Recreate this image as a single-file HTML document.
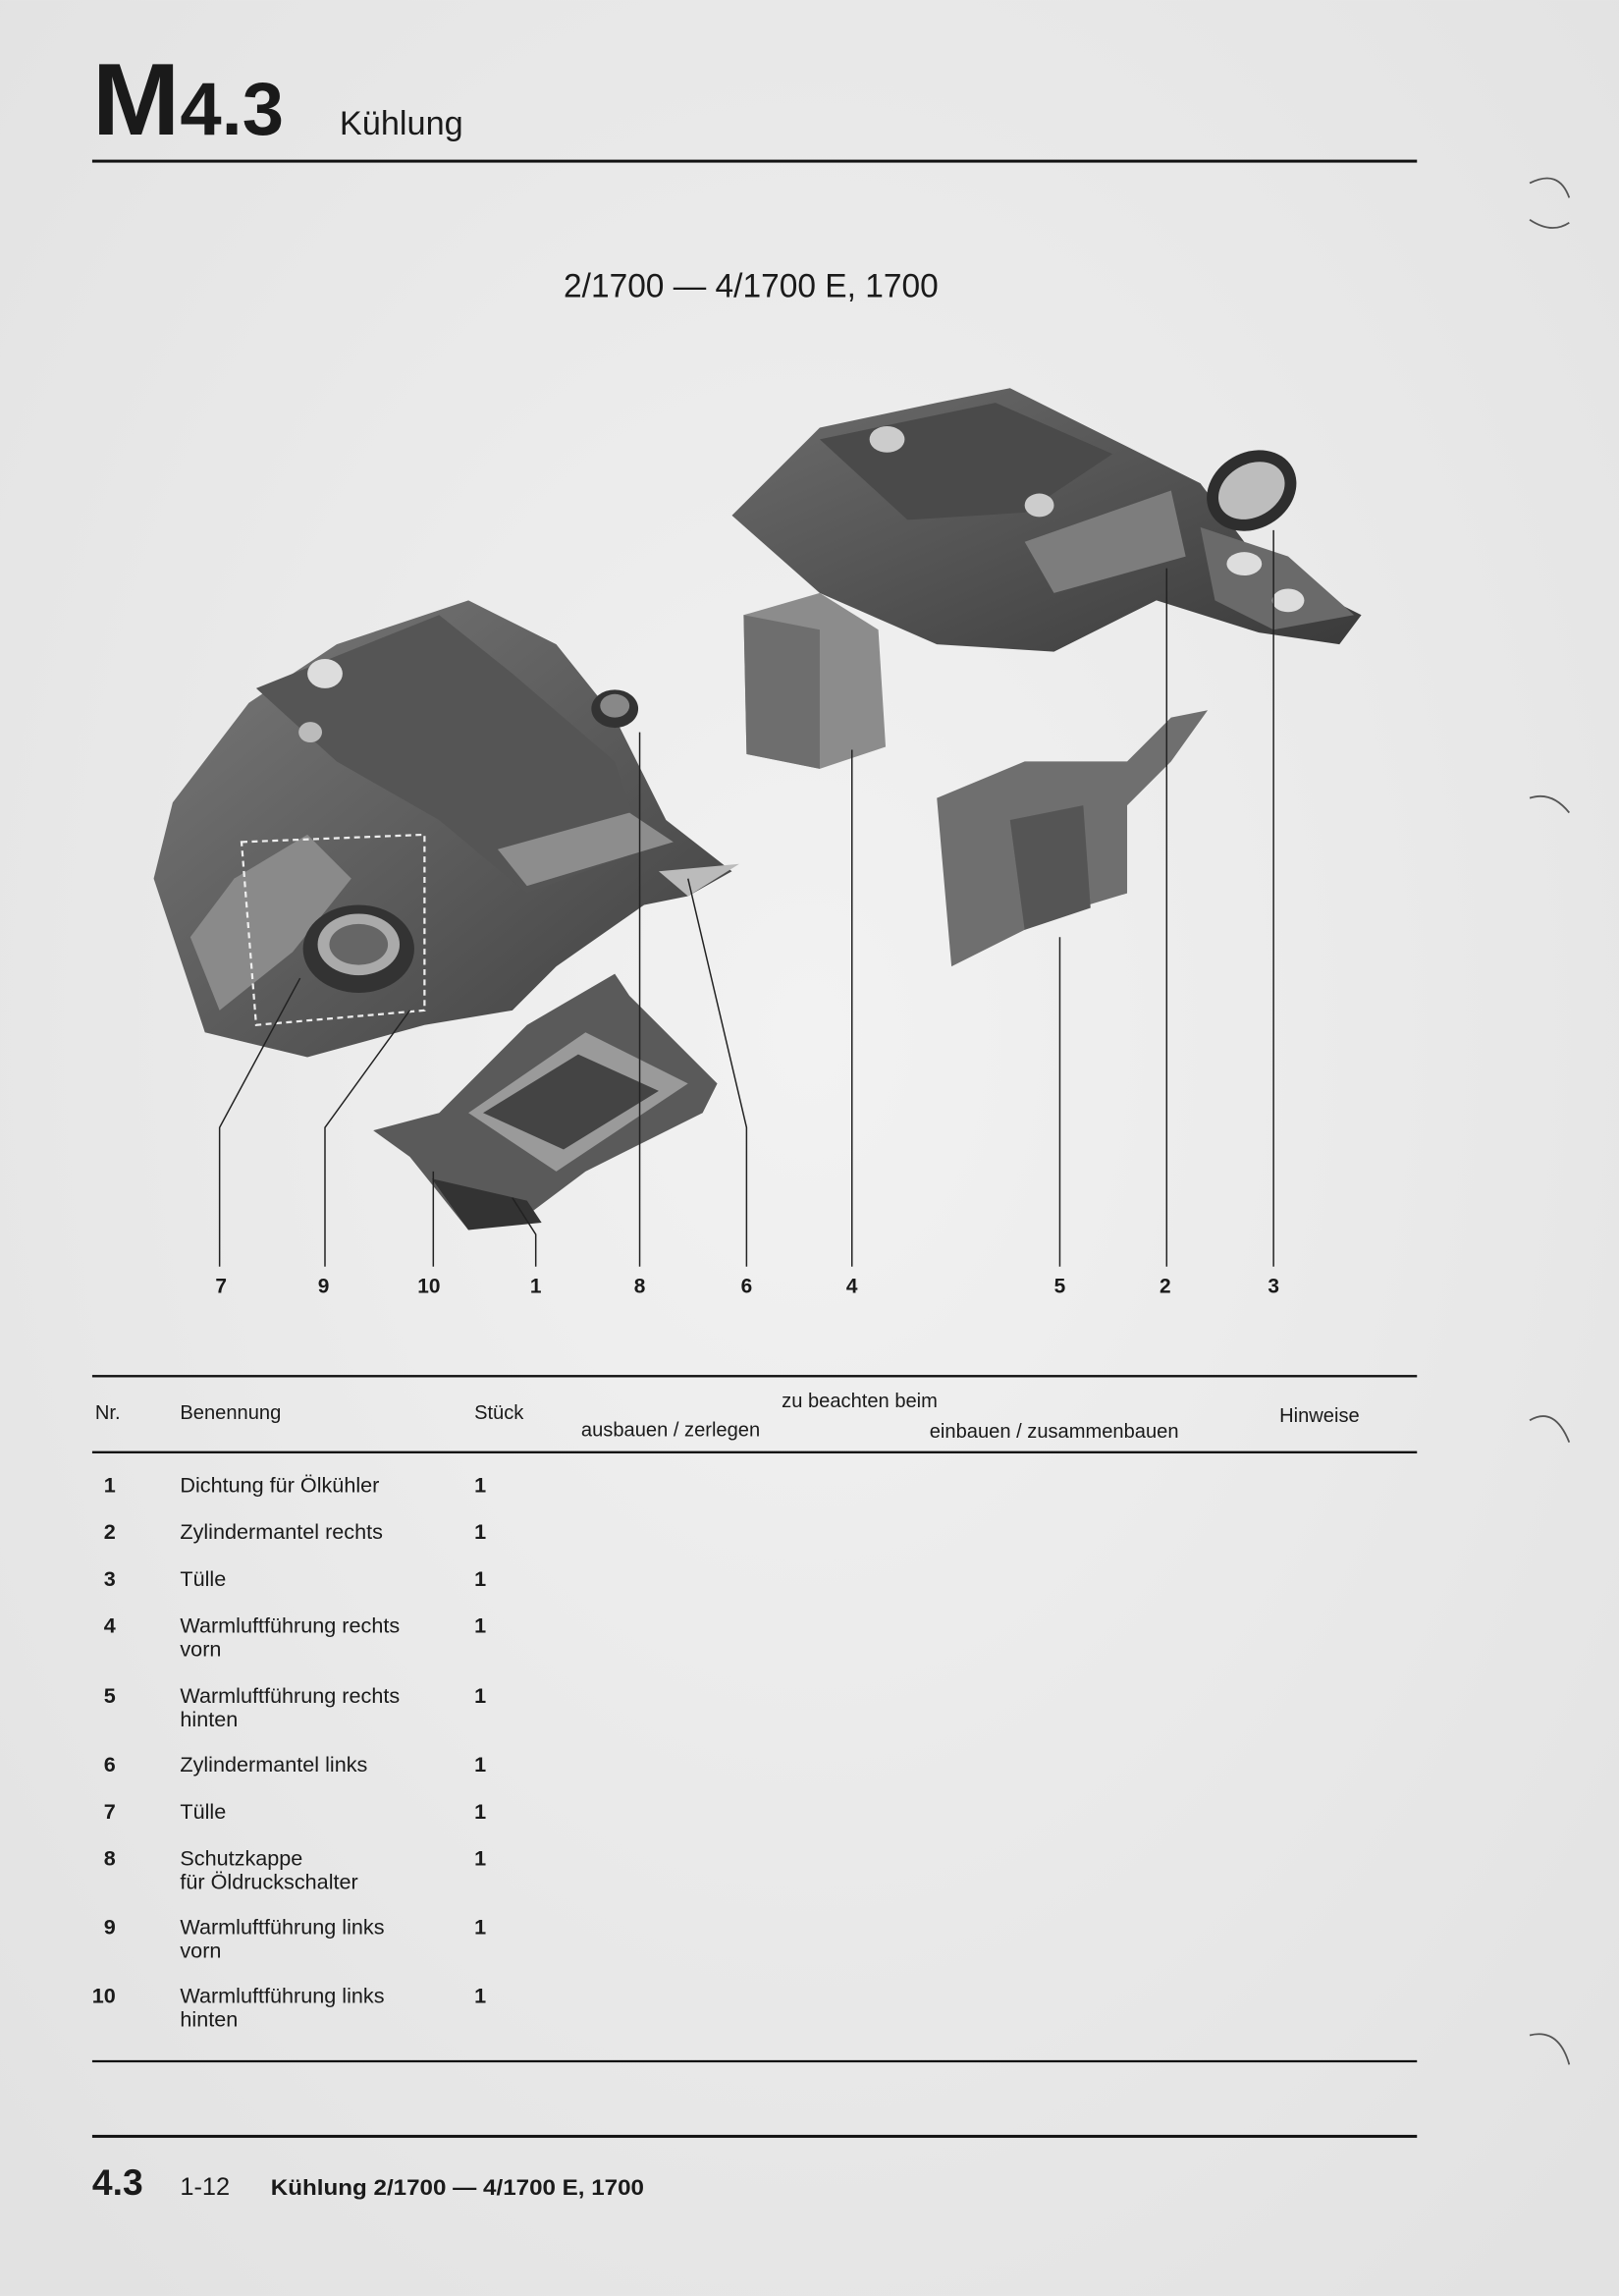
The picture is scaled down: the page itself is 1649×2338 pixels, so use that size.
<!DOCTYPE html>
<html><head><meta charset="utf-8"><style>
html,body{margin:0;padding:0;background:#ebebeb;}
svg{display:block;}
text{font-family:"Liberation Sans",sans-serif;fill:#1a1a1a;}
</style></head><body>
<svg width="1649" height="2338" viewBox="0 0 1106 1568" xmlns="http://www.w3.org/2000/svg">
<defs>
<radialGradient id="bg" cx="0.5" cy="0.45" r="0.7"><stop offset="0" stop-color="#f2f2f2"/><stop offset="1" stop-color="#e2e2e2"/></radialGradient>
<linearGradient id="g1" x1="0" y1="0" x2="1" y2="1"><stop offset="0" stop-color="#7a7a7a"/><stop offset="1" stop-color="#3f3f3f"/></linearGradient>
<linearGradient id="g2" x1="0" y1="0" x2="1" y2="1"><stop offset="0" stop-color="#6c6c6c"/><stop offset="1" stop-color="#3a3a3a"/></linearGradient>
</defs>
<rect width="1106" height="1568" fill="url(#bg)"/>
<!-- header -->
<text x="63" y="92" font-size="70" font-weight="bold" textLength="60" lengthAdjust="spacingAndGlyphs">M</text>
<text x="123" y="92" font-size="51" font-weight="bold">4.3</text>
<text x="232" y="92" font-size="23">Kühlung</text>
<rect x="63" y="109" width="905" height="2" fill="#111"/>
<text x="385" y="203" font-size="23" textLength="256" lengthAdjust="spacingAndGlyphs">2/1700 — 4/1700 E, 1700</text>

<!-- diagram -->
<path d="M105,600 L118,548 L170,480 L230,440 L320,410 L380,440 L420,490 L455,560 L500,595 L470,612 L440,618 L380,660 L350,690 L290,700 L210,722 L140,705 Z" fill="url(#g1)"/>
<path d="M175,470 L300,420 L350,460 L420,520 L440,580 L360,610 L300,560 L230,520 Z" fill="#555"/>
<ellipse cx="222" cy="460" rx="12" ry="10" fill="#ddd"/>
<ellipse cx="212" cy="500" rx="8" ry="7" fill="#bbb"/>
<path d="M130,640 L160,600 L210,570 L240,600 L200,650 L150,690 Z" fill="#8a8a8a"/>
<path d="M340,580 L430,555 L460,575 L360,605 Z" fill="#8d8d8d"/>
<path d="M450,595 L505,590 L470,612 Z" fill="#bbb"/>
<path d="M165,575 L290,570 L290,690 L175,700 Z" fill="none" stroke="#eee" stroke-width="1.5" stroke-dasharray="4,3"/>
<ellipse cx="245" cy="648" rx="38" ry="30" fill="#333"/>
<ellipse cx="245" cy="645" rx="28" ry="21" fill="#aaa"/>
<ellipse cx="245" cy="645" rx="20" ry="14" fill="#666"/>
<ellipse cx="420" cy="484" rx="16" ry="13" fill="#333"/>
<ellipse cx="420" cy="482" rx="10" ry="8" fill="#888"/>
<path d="M500,352 L560,292 L640,275 L690,265 L760,300 L820,330 L850,370 L880,395 L930,420 L915,440 L860,432 L790,410 L720,445 L640,440 L560,405 Z" fill="url(#g2)"/>
<path d="M560,300 L680,275 L760,310 L700,350 L620,355 Z" fill="#4a4a4a"/>
<ellipse cx="606" cy="300" rx="12" ry="9" fill="#ccc"/>
<ellipse cx="710" cy="345" rx="10" ry="8" fill="#ccc"/>
<path d="M700,370 L800,335 L810,380 L720,405 Z" fill="#7d7d7d"/>
<path d="M820,360 L880,380 L925,420 L870,430 L830,410 Z" fill="#6a6a6a"/>
<ellipse cx="850" cy="385" rx="12" ry="8" fill="#ddd"/>
<ellipse cx="880" cy="410" rx="11" ry="8" fill="#ddd"/>
<ellipse cx="855" cy="335" rx="32" ry="26" fill="#2e2e2e" transform="rotate(-30 855 335)"/>
<ellipse cx="855" cy="335" rx="24" ry="18" fill="#bdbdbd" transform="rotate(-30 855 335)"/>
<path d="M508,420 L560,405 L600,430 L605,510 L560,525 L510,515 Z" fill="#8c8c8c"/>
<path d="M508,420 L560,430 L560,525 L510,515 Z" fill="#6e6e6e"/>
<path d="M640,545 L700,520 L770,520 L800,490 L825,485 L800,520 L770,550 L770,610 L720,625 L690,640 L650,660 Z" fill="#6f6f6f"/>
<path d="M690,560 L740,550 L745,620 L700,635 Z" fill="#555"/>
<path d="M255,772 L300,760 L360,700 L420,665 L430,680 L490,740 L480,760 L400,800 L360,830 L320,840 L280,790 Z" fill="#5a5a5a"/>
<path d="M320,760 L400,705 L470,740 L380,800 Z" fill="#9a9a9a"/>
<path d="M330,760 L395,720 L450,745 L385,785 Z" fill="#444"/>
<path d="M295,805 L360,820 L370,835 L320,840 Z" fill="#333"/>

<g stroke="#222" stroke-width="1" fill="none">
<path d="M150,865 L150,770 L205,668"/>
<path d="M222,865 L222,770 L280,690"/>
<path d="M296,865 L296,800"/>
<path d="M366,865 L366,843 L350,818"/>
<path d="M437,865 L437,500"/>
<path d="M510,865 L510,770 L470,600"/>
<path d="M582,865 L582,512"/>
<path d="M724,865 L724,640"/>
<path d="M797,865 L797,388"/>
<path d="M870,865 L870,362"/>
</g>
<g font-size="14" font-weight="bold" text-anchor="middle">
<text x="151" y="883">7</text><text x="221" y="883">9</text><text x="293" y="883">10</text>
<text x="366" y="883">1</text><text x="437" y="883">8</text><text x="510" y="883">6</text>
<text x="582" y="883">4</text><text x="724" y="883">5</text><text x="796" y="883">2</text><text x="870" y="883">3</text>
</g>

<rect x="63" y="939" width="905" height="1.6" fill="#111"/>
<rect x="63" y="991" width="905" height="1.6" fill="#111"/>
<g font-size="13.5">
<text x="65" y="969">Nr.</text>
<text x="123" y="969">Benennung</text>
<text x="324" y="969">Stück</text>
<text x="534" y="961">zu beachten beim</text>
<text x="397" y="981">ausbauen / zerlegen</text>
<text x="635" y="982">einbauen / zusammenbauen</text>
<text x="874" y="971">Hinweise</text>
</g>
<g font-size="14.5">
<g text-anchor="end" font-weight="bold">
<text x="79" y="1019">1</text><text x="79" y="1051">2</text><text x="79" y="1083">3</text><text x="79" y="1115">4</text>
<text x="79" y="1163">5</text><text x="79" y="1210">6</text><text x="79" y="1242">7</text><text x="79" y="1274">8</text>
<text x="79" y="1321">9</text><text x="79" y="1368">10</text>
</g>
<text x="123" y="1019">Dichtung für Ölkühler</text>
<text x="123" y="1051">Zylindermantel rechts</text>
<text x="123" y="1083">Tülle</text>
<text x="123" y="1115">Warmluftführung rechts</text><text x="123" y="1131">vorn</text>
<text x="123" y="1163">Warmluftführung rechts</text><text x="123" y="1179">hinten</text>
<text x="123" y="1210">Zylindermantel links</text>
<text x="123" y="1242">Tülle</text>
<text x="123" y="1274">Schutzkappe</text><text x="123" y="1290">für Öldruckschalter</text>
<text x="123" y="1321">Warmluftführung links</text><text x="123" y="1337">vorn</text>
<text x="123" y="1368">Warmluftführung links</text><text x="123" y="1384">hinten</text>
<g font-weight="bold">
<text x="324" y="1019">1</text><text x="324" y="1051">1</text><text x="324" y="1083">1</text><text x="324" y="1115">1</text>
<text x="324" y="1163">1</text><text x="324" y="1210">1</text><text x="324" y="1242">1</text><text x="324" y="1274">1</text>
<text x="324" y="1321">1</text><text x="324" y="1368">1</text>
</g>
</g>
<rect x="63" y="1407" width="905" height="1.5" fill="#111"/>

<rect x="63" y="1458" width="905" height="2" fill="#111"/>
<text x="63" y="1499" font-size="25" font-weight="bold">4.3</text>
<text x="123" y="1499" font-size="17">1-12</text>
<text x="185" y="1499" font-size="15" font-weight="bold" textLength="255" lengthAdjust="spacingAndGlyphs">Kühlung 2/1700 — 4/1700 E, 1700</text>

<g stroke="#555" fill="none" stroke-width="1.2">
<path d="M1045,125 Q1065,115 1072,135"/><path d="M1045,150 Q1060,160 1072,152"/>
<path d="M1045,545 Q1060,540 1072,555"/>
<path d="M1045,970 Q1062,960 1072,985"/>
<path d="M1045,1390 Q1065,1385 1072,1410"/>
</g>
</svg>
</body></html>
